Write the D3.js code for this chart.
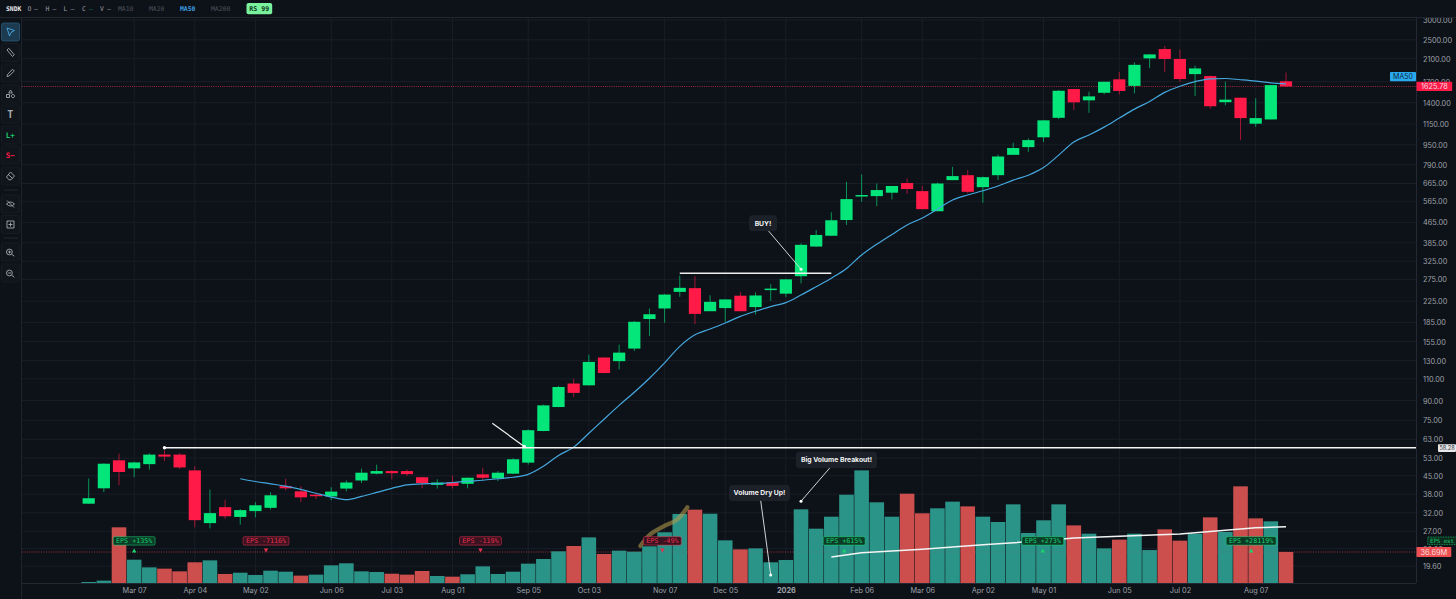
<!DOCTYPE html>
<html><head><meta charset="utf-8">
<script src="https://cdn.jsdelivr.net/npm/d3@7/dist/d3.min.js"></script>
<style>
html,body{margin:0;padding:0;background:#0d1118;overflow:hidden}
svg{display:block}
text{font-family:Inter,"Liberation Sans",sans-serif}
.mono{font-family:"DejaVu Sans Mono",monospace}
.axis path,.axis line{display:none}
.axis text{fill:#9ea2a9;font-size:7.3px;font-family:Inter,sans-serif}
</style></head><body><svg id="c" width="1456" height="599"></svg>
<script>
const open =[34.8,40.1,51.9,48.2,50.1,54.7,54.7,47.3,29.1,33.7,30.8,32.5,33.5,40.9,39.0,37.8,37.2,40.0,43.1,45.9,47.0,47.0,44.4,41.4,42.4,41.8,45.6,43.9,45.9,50.8,68.0,84.8,105.3,103.6,133.8,129.4,145.3,190.8,210.3,245,253.6,205,211,236.5,213,250,241,283,372,411,475,590,592,611,668,620,515,686,718,643,718,866,930,1018,1218,1588,1431,1534,1737,1635,2107,2295,2095,1822,1790,1407,1466,1154,1200,1705];
const high =[43.9,50.5,55.2,51.2,55.4,56.9,55.5,49.1,39.6,36.1,33.1,35.3,38.7,43.8,40.9,38.3,40.5,43.1,48.1,49.9,47.3,47.6,44.5,43.6,45.1,44.3,48.5,47.0,52.9,69.0,86.7,103,110,137.4,134,150.7,187.3,210.3,240,285,283.3,237.5,229,245,244,263,276,383,433,510,675,723,665,650,697,650,671,775,752,709,868,968,1008,1193,1573,1588,1550,1698,1860,2030,2190,2360,2285,1970,1802,1698,1466,1458,1647,1850];
const low  =[34.8,38.7,41.2,44.4,47.6,51.6,47.9,28.0,27.7,30.3,28.7,30.7,33.0,39.3,35.3,36.3,35.9,39.0,42.1,45.6,43.5,44.9,40.1,40.0,40.0,40.1,43.4,42.8,45.7,49.9,67.8,84.6,93.1,103.3,115.7,120,142,163.2,184.4,234,182,205,186,205,199,225.5,234,265,371,410,454,562,540,574,605,525,515,686,607,557,686,864,891,975,1204,1308,1276,1513,1510,1525,1925,1860,1698,1490,1325,1368,992,1120,1200,1626];
const close=[36.6,50.3,46.6,50.9,54.7,53.7,48.6,29.9,31.9,31.0,32.8,34.3,37.6,40.1,36.9,37.3,38.9,42.3,46.3,47.0,46.1,45.7,42.1,42.3,41.0,44.2,44.2,46.3,52.4,68.5,86.1,102,96.6,128.5,116,140,186,199.4,239,254.3,200,223.5,228.5,205,237,252.5,275,378,414,474,576,598,626,650,632,525,665,712,616,705,853,922,992,1190,1563,1405,1484,1698,1560,1985,2185,2095,1741,1920,1355,1440,1215,1215,1647,1625.78];
const volume=[1.2,2.8,65.9,27.6,18.5,17,13.8,24.5,26.8,10.7,12.2,9.5,14.6,13.4,8.7,9.9,20.9,23.3,13.8,13,11,9.9,14.2,8.3,7.5,10.3,19.7,10.7,13.4,22.9,28.4,37.5,43.8,54,34.3,38.3,37.1,43.4,60,81.7,86.8,82,50.5,39.8,41,24.5,27.2,87.2,64.3,78.5,104.5,133.3,95.5,78.5,105.7,82.5,88.4,96.3,90.7,78.5,72.2,93.1,59.2,74.2,93.1,68.2,58.4,41,51.3,58.4,39,63.5,50.1,58.4,77.7,60.4,114.4,76.5,73,36.69];
const volumeDown=[2,5,6,7,9,14,20,21,22,24,32,34,40,43,54,55,58,65,68,71,72,74,76,77,79];
const ma50Start=10;
const ma50=[43.8,42.7,41.8,40.9,39.7,38.3,37.0,36.1,37.2,38.6,40.1,41.4,41.8,41.9,42.3,42.8,43.2,43.8,44.4,45.6,49.1,54.3,58.6,66.6,75.8,86.1,97.2,110.6,127.4,148.3,165,174,184,195.5,205,214,222,238,257,278,304,344,380,416,454,484,525,571,598,622,650,686,718,770,864,975,1040,1118,1215,1320,1415,1540,1630,1700,1745,1750,1730,1708,1680,1665];
const volMaIdx=[49,51,53,55,59,63,65,68,72,75,77,79];
const volMaVal=[30.8,35.8,37.9,39.9,45.3,50,53.2,55.2,58,62.3,65.4,66.6];
const priceTicks=[3000,2500,2100,1700,1400,1150,950,790,665,565,465,385,325,275,225,185,155,130,110,90,75,63,53,45,38,32,27,23,19.6];
const dateIdx=[3,7,11,16,20,24,29,33,38,42,46,51,55,59,63,68,72,77];
const dateLabels=["Mar 07","Apr 04","May 02","Jun 06","Jul 03","Aug 01","Sep 05","Oct 03","Nov 07","Dec 05","2026","Feb 06","Mar 06","Apr 02","May 01","Jun 05","Jul 02","Aug 07"];
const epsText=["EPS +135%","EPS -7116%","EPS -119%","EPS -49%","EPS +615%","EPS +273%","EPS +28119%"];
const epsIdx=[3,11.7,25.85,37.85,49.85,62.95,76.7];
const brushIdx=[36.4,37,37.9,38.8,39.5];
const brushVol=[43.8,56.8,66.8,74.7,89.7];
const lastPrice=1625.78, lastVolume=36.69, levelPrice=58.28, buyPrice=291;

const W=1456,H=599,plotL=22,plotR=1416,plotT=18,plotB=583;
const svg=d3.select("#c");
const x=d3.scaleLinear().domain([0,79]).range([88.7,1286]);
const y=d3.scaleLog().domain([19.6,3000]).range([566,20]);
const v=d3.scaleLinear().domain([0,36.69]).range([583,552]);
const GREEN="#04e67a",RED="#ff1a47",TEAL="#2b9488",VRED="#cc4f4e",BLUE="#45a8de";

svg.append("rect").attr("width",W).attr("height",H).attr("fill","#0d1118");

// grid
const grid=svg.append("g").attr("stroke","#191e27").attr("stroke-width",1);
grid.selectAll("line.h").data(priceTicks).join("line").attr("class","h")
 .attr("x1",plotL).attr("x2",plotR).attr("y1",d=>y(d)).attr("y2",d=>y(d));
grid.selectAll("line.v").data(dateIdx).join("line").attr("class","v")
 .attr("y1",plotT).attr("y2",plotB).attr("x1",d=>x(d)).attr("x2",d=>x(d));

const idx=d3.range(open.length);
// last volume line, behind the bars
svg.append("line").attr("x1",plotL).attr("x2",plotR).attr("y1",v(lastVolume)).attr("y2",v(lastVolume))
 .attr("stroke","#d8434f").attr("stroke-opacity",.6).attr("stroke-dasharray","1 1.4");
// volume
svg.append("g").selectAll("rect").data(idx).join("rect")
 .attr("x",i=>x(i)-7.3).attr("width",14.6)
 .attr("y",i=>v(volume[i])).attr("height",i=>v(0)-v(volume[i]))
 .attr("fill",i=>volumeDown.includes(i)?VRED:TEAL);
svg.append("line").attr("x1",plotL).attr("x2",plotR).attr("y1",v(lastVolume)).attr("y2",v(lastVolume))
 .attr("stroke","#d8434f").attr("stroke-opacity",.18).attr("stroke-dasharray","1 1.4");
// last price line
svg.append("line").attr("x1",plotL).attr("x2",plotR).attr("y1",y(lastPrice)).attr("y2",y(lastPrice))
 .attr("stroke","#e0354f").attr("stroke-opacity",.7).attr("stroke-dasharray","1 1.2");

// candles
const col=i=>close[i]>=open[i]?GREEN:RED;
svg.append("g").selectAll("line").data(idx).join("line")
 .attr("x1",i=>x(i)).attr("x2",i=>x(i)).attr("y1",i=>y(high[i])).attr("y2",i=>y(low[i]))
 .attr("stroke",col).attr("stroke-width",1).attr("stroke-opacity",.62);
svg.append("g").selectAll("rect").data(idx).join("rect")
 .attr("x",i=>x(i)-6.1).attr("width",12.2)
 .attr("y",i=>y(Math.max(open[i],close[i])))
 .attr("height",i=>Math.max(1.5,y(Math.min(open[i],close[i]))-y(Math.max(open[i],close[i]))))
 .attr("fill",col);

// MA50
const lineP=d3.line().x((d,k)=>x(k+ma50Start)).y(d=>y(d)).curve(d3.curveMonotoneX);
svg.append("path").attr("d",lineP(ma50)).attr("fill","none").attr("stroke",BLUE).attr("stroke-width",1.2);

// volume average line
const lineV=d3.line().x(d=>x(volMaIdx[d])).y(d=>v(volMaVal[d]));
svg.append("path").attr("d",lineV(d3.range(volMaIdx.length))).attr("fill","none").attr("stroke","#f2f5f4").attr("stroke-width",1.5);

// brush stroke
svg.append("path").attr("d",d3.line().x(d=>x(brushIdx[d])).y(d=>v(brushVol[d])).curve(d3.curveCatmullRom)(d3.range(brushIdx.length)))
 .attr("fill","none").attr("stroke","#b49a4a").attr("stroke-opacity",.58).attr("stroke-width",4.2).attr("stroke-linecap","round");

// level lines
svg.append("line").attr("x1",x(5)).attr("x2",1440).attr("y1",y(levelPrice)).attr("y2",y(levelPrice))
 .attr("stroke","#f4f4f4").attr("stroke-width",1.6);
svg.append("circle").attr("cx",x(5)).attr("cy",y(levelPrice)).attr("r",1.7).attr("fill","#fff");
svg.append("line").attr("x1",x(39)).attr("x2",x(49)).attr("y1",y(buyPrice)).attr("y2",y(buyPrice))
 .attr("stroke","#f0f0f0").attr("stroke-width",1.6);

// annotations (box in pixel space, tip located by data)
function callout(label,bx,by,bw,bh,fromX,tipI,tipY){
 const tx=x(tipI),ty=tipY;
 svg.append("line").attr("x1",fromX).attr("y1",by+bh).attr("x2",tx).attr("y2",ty).attr("stroke","#e6e8ea").attr("stroke-width",.9);
 svg.append("circle").attr("cx",tx).attr("cy",ty).attr("r",1.5).attr("fill","#fff");
 svg.append("rect").attr("x",bx).attr("y",by).attr("width",bw).attr("height",bh).attr("rx",2.5).attr("fill","#1b2029").attr("stroke","#262b35").attr("stroke-width",.5);
 svg.append("text").attr("x",bx+bw/2).attr("y",by+bh/2+2.4).attr("text-anchor","middle").attr("fill","#f1f2f3").attr("font-size",6.8).attr("font-weight",700).attr("font-family","Liberation Sans").text(label);
}
callout("BUY!",749.5,215.7,27,15,768.3,47,y(302));
callout("Volume Dry Up!",729.5,485.5,60,15,760.7,45,v(9.4));
callout("Big Volume Breakout!",796.5,452.3,80,15.4,830,47,v(96.8));
// arrow to breakout
svg.append("line").attr("x1",492.3).attr("y1",423.3).attr("x2",x(29)-4).attr("y2",y(59)).attr("stroke","#f2f2f2").attr("stroke-width",1.2);
svg.append("circle").attr("cx",x(29)-4).attr("cy",y(59)).attr("r",1.7).attr("fill","#fff");

// EPS badges
epsText.forEach((t,k)=>{
 const up=t.includes("+"),cx=x(epsIdx[k]);
 const w=t.length*4.07+5.2, c=up?"#19d36f":"#e8304f", bg=up?"#0b3a27":"#3b1220";
 const g=svg.append("g");
 g.append("rect").attr("x",cx-w/2).attr("y",536.7).attr("width",w).attr("height",8.4).attr("rx",1.5)
  .attr("fill",bg).attr("stroke",c).attr("stroke-width",.55);
 g.append("text").attr("class","mono").attr("x",cx).attr("y",543.2).attr("text-anchor","middle").attr("fill",c).attr("font-size",6.7).text(t);
 g.append("path").attr("d",up?`M${cx},548.6L${cx+2.2},552.6L${cx-2.2},552.6Z`:`M${cx},552.6L${cx+2.2},548.6L${cx-2.2},548.6Z`).attr("fill",c);
});

// right and bottom panes
svg.append("rect").attr("x",plotR).attr("y",plotT).attr("width",W-plotR).attr("height",H-plotT).attr("fill","#0d1118");
svg.append("rect").attr("x",plotL).attr("y",plotB).attr("width",plotR-plotL).attr("height",H-plotB).attr("fill","#0d1118");
svg.append("line").attr("x1",plotR+.5).attr("x2",plotR+.5).attr("y1",plotT).attr("y2",plotB).attr("stroke","#232832");
svg.append("line").attr("x1",plotL).attr("x2",plotR).attr("y1",plotB+.5).attr("y2",plotB+.5).attr("stroke","#232832");

const ay=svg.append("g").attr("class","axis").attr("transform",`translate(${plotR},0)`)
 .call(d3.axisRight(y).tickValues(priceTicks).tickFormat(d3.format(".2f")).tickSize(0).tickPadding(7));
ay.selectAll("text").attr("dy","0.34em");
const ax=svg.append("g").attr("class","axis").attr("transform",`translate(0,${plotB})`)
 .call(d3.axisBottom(x).tickValues(dateIdx).tickFormat((d,k)=>dateLabels[k]).tickSize(0).tickPadding(5));
ax.selectAll("text").filter((d,k)=>dateLabels[k]==="2026").attr("fill","#e4e6e8").attr("font-weight",700);

// price tags
function tag(bx,by,bw,bh,fill,txt,tc,fs){
 svg.append("rect").attr("x",bx).attr("y",by).attr("width",bw).attr("height",bh).attr("fill",fill).attr("rx",.8);
 svg.append("text").attr("x",bx+bw/2).attr("y",by+bh/2+fs*.36).attr("text-anchor","middle").attr("fill",tc).attr("font-size",fs).text(txt);
}
tag(1390,72,26,9.3,"#29a9ee","MA50","#0d2a3d",7);
tag(1416.5,81.7,35.7,9.4,RED,lastPrice.toFixed(2),"#f5dfe3",7.3);
tag(1416.5,547,34.8,10,"#ee4f53",lastVolume.toFixed(2)+"M","#f8dede",7.4);
tag(1438,444.3,18,7.6,"#e6e7e8",levelPrice.toFixed(2),"#30343a",5.6);
svg.append("rect").attr("x",1427.8).attr("y",537).attr("width",30).attr("height",7.6).attr("fill","#0b2a1e").attr("stroke","#19d36f").attr("stroke-width",.6).attr("stroke-dasharray","1.5 1");
svg.append("text").attr("class","mono").attr("x",1430).attr("y",543).attr("fill","#19d36f").attr("font-size",5.7).text("EPS est");

// top bar
svg.append("rect").attr("width",W).attr("height",plotT).attr("fill","#0d1118");
svg.append("line").attr("x1",0).attr("x2",W).attr("y1",plotT-.5).attr("y2",plotT-.5).attr("stroke","#20252e");
const head=[["SNDK",6,"#e6e7ea",700],["O",27.5,"#9a9ea6",400],["—",34,"#9a9ea6",400],["H",45.5,"#9a9ea6",400],["—",52.5,"#9a9ea6",400],["L",63.5,"#9a9ea6",400],["—",70.5,"#9a9ea6",400],["C",82,"#9a9ea6",400],["—",89,"#1a7a52",400],["V",100,"#9a9ea6",400],["—",107,"#9a9ea6",400],["MA10",118,"#4d525b",400],["MA20",149,"#4d525b",400],["MA50",180,"#3c9fe0",700],["MA200",211,"#4d525b",400]];
svg.append("g").selectAll("text").data(head).join("text").attr("class","mono")
 .attr("x",d=>d[1]).attr("y",11).attr("font-size",6.4).attr("fill",d=>d[2]).attr("font-weight",d=>d[3]).text(d=>d[0]);
svg.append("rect").attr("x",246.5).attr("y",3).attr("width",25.7).attr("height",11.3).attr("rx",2).attr("fill","#7af29d");
svg.append("text").attr("class","mono").attr("x",259.3).attr("y",11).attr("text-anchor","middle").attr("font-size",6.6).attr("font-weight",700).attr("fill","#0e3a20").text("RS 99");

// toolbar
svg.append("rect").attr("y",plotT).attr("width",plotL).attr("height",H-plotT).attr("fill","#0d1118");
svg.append("line").attr("x1",plotL-.5).attr("x2",plotL-.5).attr("y1",plotT).attr("y2",H).attr("stroke","#1e232c");
const btnY=[32,52.5,73,94,114,135,155,176,204,224.5,252,273];
const tb=svg.append("g");
btnY.forEach((cy,k)=>{
 tb.append("rect").attr("x",1.5).attr("y",cy-9).attr("width",18).attr("height",18).attr("rx",2)
  .attr("fill",k==0?"#1d3b50":"#10141b").attr("stroke",k==0?"#2e5f80":"#1b2029").attr("stroke-width",.7);
});
[190,238].forEach(s=>tb.append("line").attr("x1",4).attr("x2",18).attr("y1",s).attr("y2",s).attr("stroke","#232832"));
const ic="#a7abb1";
const icon=(cy,d,c,fillc)=>tb.append("path").attr("transform",`translate(10.5,${cy})`).attr("d",d).attr("fill",fillc||"none").attr("stroke",c||ic).attr("stroke-width",.9).attr("stroke-linejoin","round");
icon(32,"M-3.5,-4L4,-1.5L0.5,0.5L-1,4Z","#4aa8e0");
icon(52.5,"M-3.5,-2.5L-1.8,-4.2L3.8,2.2L2,4Z");
icon(73,"M-3.5,3.5L-3,1.5L2,-3.8L3.8,-2L-1.5,3Z");
icon(94,"M0,-4L1.8,-1L-1.8,-1ZM-4,3.5L-4,0.5L-1,0.5L-1,3.5ZM2.5,0.5a1.6,1.6 0 1,0 .01,0Z");
[["T",114,ic,10],["L+",135,"#1bc96b",7.5],["S−",155,RED,7.5]].forEach(t=>{
 tb.append("text").attr("class","mono").attr("x",10.3).attr("y",t[1]+t[3]*.36).attr("text-anchor","middle").attr("font-size",t[3]).attr("font-weight",700).attr("fill",t[2]).text(t[0]);
});
icon(176,"M0,-4L4,0L0.5,3.8L-1.5,3.8L-4,1Z M-2.2,-1.5L2.2,2.5");
icon(204,"M-4,0Q0,-4 4,0Q0,4 -4,0ZM-3.5,-3.5L3.5,3.5");
icon(224.5,"M-3.5,-3.5H3.5V3.5H-3.5ZM0,-2V2M-2,0H2");
icon(252,"M1.8,0a2.9,2.9 0 1,0 -5.8,0a2.9,2.9 0 1,0 5.8,0M1,2.2L3.8,4.2M-2.3,0H.5M-1,-1.4V1.4");
icon(273,"M1.8,0a2.9,2.9 0 1,0 -5.8,0a2.9,2.9 0 1,0 5.8,0M1,2.2L3.8,4.2M-2.3,0H.5");
</script></body></html>
